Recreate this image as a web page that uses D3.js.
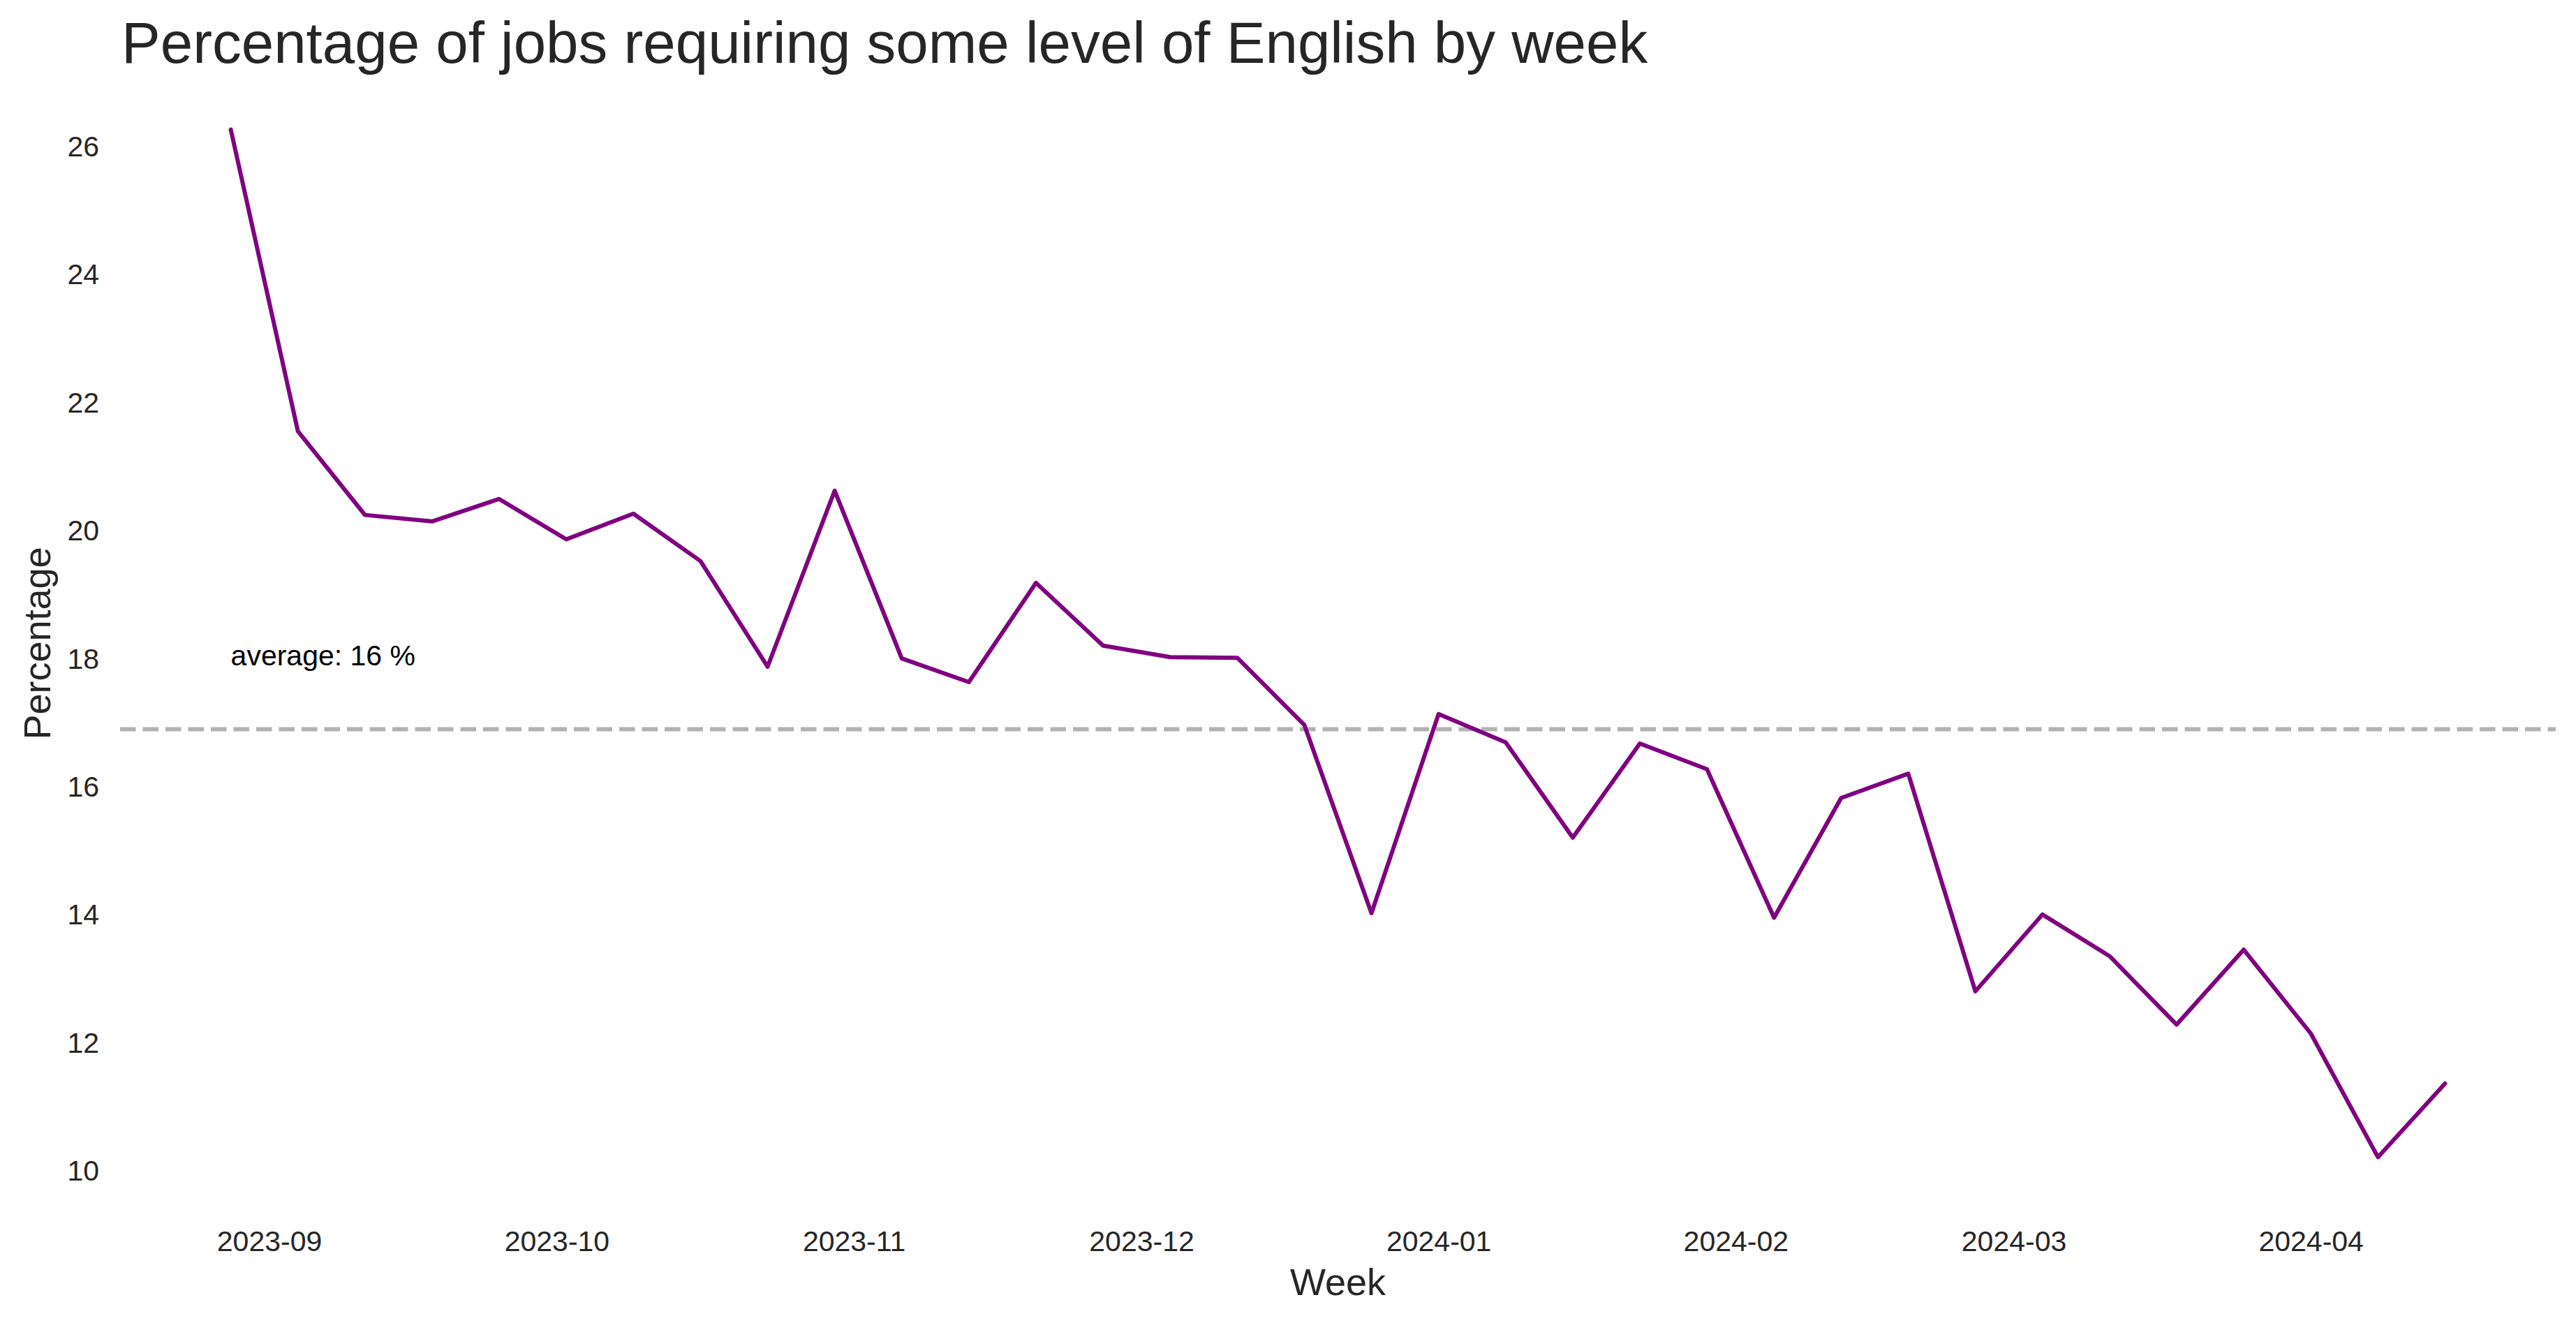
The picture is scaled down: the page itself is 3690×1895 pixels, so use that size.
<!DOCTYPE html>
<html>
<head>
<meta charset="utf-8">
<script src="https://cdn.jsdelivr.net/npm/d3@7"></script>
<style>
  html, body { margin: 0; padding: 0; background: #ffffff; }
  svg { display: block; }
  text { font-family: "Liberation Sans", Arial, Helvetica, sans-serif; }
</style>
</head>
<body>
<svg id="chart" width="3690" height="1895"></svg>
<script>
// ---- Data ----
const weeks = [
  "2023-08-28","2023-09-04","2023-09-11","2023-09-18","2023-09-25",
  "2023-10-02","2023-10-09","2023-10-16","2023-10-23","2023-10-30",
  "2023-11-06","2023-11-13","2023-11-20","2023-11-27","2023-12-04",
  "2023-12-11","2023-12-18","2023-12-25","2024-01-01","2024-01-08",
  "2024-01-15","2024-01-22","2024-01-29","2024-02-05","2024-02-12",
  "2024-02-19","2024-02-26","2024-03-04","2024-03-11","2024-03-18",
  "2024-03-25","2024-04-01","2024-04-08","2024-04-15"
];
const percentages = [
  26.27, 21.56, 20.25, 20.15, 20.50,
  19.87, 20.27, 19.53, 17.88, 20.63,
  18.01, 17.64, 19.19, 18.21, 18.03,
  18.02, 16.97, 14.03, 17.14, 16.70,
  15.21, 16.68, 16.28, 13.96, 15.83,
  16.21, 12.81, 14.01, 13.36, 12.29,
  13.46, 12.15, 10.22, 11.37
];
const yTickValues = [10, 12, 14, 16, 18, 20, 22, 24, 26];
const xTickLabels = ["2023-09","2023-10","2023-11","2023-12","2024-01","2024-02","2024-03","2024-04"];

const titleText = "Percentage of jobs requiring some level of English by week";
const xLabel = "Week";
const yLabel = "Percentage";

// ---- Layout ----
const plot = { left: 172, right: 3661, top: 112, bottom: 1731 };
const textColor = "#262626";

const parseDate = d3.utcParse("%Y-%m-%d");
const parseMonth = d3.utcParse("%Y-%m");
const data = weeks.map((w, i) => ({ date: parseDate(w), value: percentages[i] }));

// matplotlib-like 5% margins
const xExt = d3.extent(data, d => d.date);
const xPad = (xExt[1] - xExt[0]) * 0.05;
const x = d3.scaleUtc()
  .domain([new Date(+xExt[0] - xPad), new Date(+xExt[1] + xPad)])
  .range([plot.left, plot.right]);

const yExt = d3.extent(data, d => d.value);
const yPad = (yExt[1] - yExt[0]) * 0.05;
const y = d3.scaleLinear()
  .domain([yExt[0] - yPad, yExt[1] + yPad])
  .range([plot.bottom, plot.top]);

const svg = d3.select("#chart");
svg.append("rect").attr("width", 3690).attr("height", 1895).attr("fill", "#ffffff");

// Title
svg.append("text")
  .attr("x", plot.left + 2)
  .attr("y", 90)
  .attr("font-size", 83.5)
  .attr("fill", textColor)
  .text(titleText);

// X axis
const xAxis = d3.axisBottom(x)
  .tickValues(xTickLabels.map(parseMonth))
  .tickFormat(d3.utcFormat("%Y-%m"))
  .tickSize(0)
  .tickPadding(32);
const gx = svg.append("g")
  .attr("transform", `translate(0,${plot.bottom})`)
  .call(xAxis);
gx.select(".domain").remove();
gx.selectAll("text")
  .attr("font-size", 41)
  .attr("font-family", "\"Liberation Sans\", Arial, sans-serif")
  .attr("fill", textColor);

// Y axis
const yAxis = d3.axisLeft(y)
  .tickValues(yTickValues)
  .tickFormat(d3.format("d"))
  .tickSize(0)
  .tickPadding(30);
const gy = svg.append("g")
  .attr("transform", `translate(${plot.left},0)`)
  .call(yAxis);
gy.select(".domain").remove();
gy.selectAll("text")
  .attr("font-size", 41)
  .attr("font-family", "\"Liberation Sans\", Arial, sans-serif")
  .attr("fill", textColor);

// Axis labels
svg.append("text")
  .attr("x", (plot.left + plot.right) / 2)
  .attr("y", 1855)
  .attr("text-anchor", "middle")
  .attr("font-size", 54)
  .attr("fill", textColor)
  .text(xLabel);

svg.append("text")
  .attr("transform", `translate(72,${(plot.top + plot.bottom) / 2}) rotate(-90)`)
  .attr("text-anchor", "middle")
  .attr("font-size", 54)
  .attr("fill", textColor)
  .text(yLabel);

// Average line
const avg = d3.mean(percentages);
svg.append("line")
  .attr("x1", plot.left)
  .attr("x2", plot.right)
  .attr("y1", y(avg))
  .attr("y2", y(avg))
  .attr("stroke", "#b2b2b2")
  .attr("stroke-width", 6)
  .attr("stroke-dasharray", "22.5,10");

// Data line
const line = d3.line()
  .x(d => x(d.date))
  .y(d => y(d.value));
svg.append("path")
  .datum(data)
  .attr("d", line)
  .attr("fill", "none")
  .attr("stroke", "#800080")
  .attr("stroke-width", 6)
  .attr("stroke-linejoin", "round")
  .attr("stroke-linecap", "round");

// Annotation
svg.append("text")
  .attr("x", x(data[0].date))
  .attr("y", y(avg + 1))
  .attr("font-size", 41)
  .attr("fill", "#000000")
  .text(`average: ${Math.floor(avg)} %`);
</script>
</body>
</html>
